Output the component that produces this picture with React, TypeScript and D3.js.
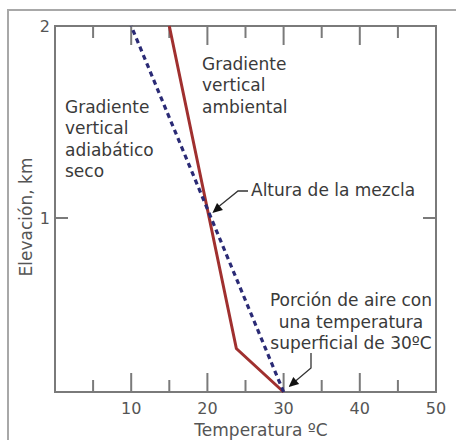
import React from "react";
import * as d3 from "d3";

// Temperature axis (°C) and elevation axis (km)
const tempMajorTicks = [10, 20, 30, 40];
const tempMinorTicks = [5, 15, 25, 35, 45];
const tempTickLabels = ["10", "20", "30", "40", "50"];
const tempLabelValues = [10, 20, 30, 40, 50];
const elevTicks = [1];
const elevLabels = ["2", "1"];
const elevLabelValues = [2, 1];

// Dry adiabatic lapse rate: 30 °C at the surface, cooling 10 °C per km
const dryAdiabatTemp = [30, 10];
const dryAdiabatElev = [0, 2];

// Environmental lapse rate profile
const envTemp = [30, 23.8, 15];
const envElev = [0, 0.25, 2];

// Annotations
const dryLabel = ["Gradiente", "vertical", "adiabático", "seco"];
const envLabel = ["Gradiente", "vertical", "ambiental"];
const mixLabel = "Altura de la mezcla";
const parcelLabel = ["Porción de aire con", "una temperatura", "superficial de 30ºC"];

const W = 456;
const H = 440;
const FONT = "'DejaVu Sans', Verdana, sans-serif";

const x = d3.scaleLinear().domain([0, 50]).range([55, 436]);
const y = d3.scaleLinear().domain([0, 1, 2]).range([392, 218, 26]);

function arrowHead(tip: [number, number], from: [number, number], len = 10, half = 4.5) {
  const dx = tip[0] - from[0];
  const dy = tip[1] - from[1];
  const d = Math.hypot(dx, dy);
  const ux = dx / d;
  const uy = dy / d;
  const bx = tip[0] - ux * len;
  const by = tip[1] - uy * len;
  return `M${tip[0]},${tip[1]}L${bx - uy * half},${by + ux * half}L${bx + uy * half},${by - ux * half}Z`;
}

export default function App() {
  const line = d3
    .line<[number, number]>()
    .x((d) => x(d[0]))
    .y((d) => y(d[1]));

  const dryPts = dryAdiabatTemp.map((t, i) => [t, dryAdiabatElev[i]] as [number, number]);
  const envPts = envTemp.map((t, i) => [t, envElev[i]] as [number, number]);

  const x0 = x(0);
  const x1 = x(50);
  const yTop = y(2);
  const yBot = y(0);

  const axisColor = "#7a7a7a";
  const textColor = "#3a3a3a";

  // leader for mixing height
  const mixTip: [number, number] = [x(20) + 5, y(1) - 5];
  const mixElbow: [number, number] = [238, 191];
  const mixStart: [number, number] = [248, 191];
  const mixShaftEnd: [number, number] = [mixTip[0] + 7, mixTip[1] - 7];

  // leader for surface parcel
  const parTip: [number, number] = [x(30) + 5, y(0) - 5];
  const parTop: [number, number] = [311, 353];
  const parElbow: [number, number] = [311, 368];
  const parShaftEnd: [number, number] = [parTip[0] + 7, parTip[1] - 6];

  return (
    <svg
      width={W}
      height={H}
      style={{ position: "absolute", left: 0, top: 0, background: "#fff" }}
      fontFamily={FONT}
    >
      {/* outer frame */}
      <rect x={8} y={10} width={470} height={460} fill="none" stroke="#a8a8a8" strokeWidth={2} />

      {/* plot frame */}
      <rect x={x0} y={yTop} width={x1 - x0} height={yBot - yTop} fill="none" stroke={axisColor} strokeWidth={2} />

      {/* temperature ticks, bottom and top, pointing inward */}
      {tempMajorTicks.map((t) => (
        <g key={`M${t}`} stroke={axisColor} strokeWidth={2}>
          <line x1={x(t)} x2={x(t)} y1={yBot} y2={yBot - 19} />
          <line x1={x(t)} x2={x(t)} y1={yTop} y2={yTop + 19} />
        </g>
      ))}
      {tempMinorTicks.map((t) => (
        <g key={`m${t}`} stroke={axisColor} strokeWidth={2}>
          <line x1={x(t)} x2={x(t)} y1={yBot} y2={yBot - 12} />
          <line x1={x(t)} x2={x(t)} y1={yTop} y2={yTop + 12} />
        </g>
      ))}
      {elevTicks.map((e) => (
        <g key={`e${e}`} stroke={axisColor} strokeWidth={2}>
          <line x1={x0} x2={x0 + 13} y1={y(e)} y2={y(e)} />
          <line x1={x1} x2={x1 - 13} y1={y(e)} y2={y(e)} />
        </g>
      ))}

      {/* tick labels */}
      {tempLabelValues.map((t, i) => (
        <text key={`tl${t}`} x={x(t)} y={414} textAnchor="middle" fontSize={16} fill="#555">
          {tempTickLabels[i]}
        </text>
      ))}
      {elevLabelValues.map((e, i) => (
        <text key={`el${e}`} x={50} y={y(e)} dy="0.36em" textAnchor="end" fontSize={16} fill="#555">
          {elevLabels[i]}
        </text>
      ))}

      {/* axis titles */}
      <text x={261} y={436} textAnchor="middle" fontSize={17} fill="#555">
        Temperatura ºC
      </text>
      <text
        transform={`translate(26,217) rotate(-90)`}
        textAnchor="middle"
        dy="0.36em"
        fontSize={17}
        fill="#555"
      >
        Elevación, km
      </text>

      {/* lapse-rate lines */}
      <path d={line(envPts) ?? ""} fill="none" stroke="#a0302f" strokeWidth={3} strokeLinejoin="miter" />
      <path d={line(dryPts) ?? ""} fill="none" stroke="#2a2a75" strokeWidth={3.2} strokeDasharray="5 4" />

      {/* annotations */}
      <text fontSize={17} fill={textColor}>
        {dryLabel.map((s, i) => (
          <tspan key={s} x={65} y={113 + i * 21.3}>
            {s}
          </tspan>
        ))}
      </text>
      <text fontSize={17} fill={textColor}>
        {envLabel.map((s, i) => (
          <tspan key={s} x={202} y={70 + i * 21.3}>
            {s}
          </tspan>
        ))}
      </text>
      <text x={251} y={196} fontSize={17} fill={textColor}>
        {mixLabel}
      </text>
      <text fontSize={17} fill={textColor} textAnchor="middle">
        {parcelLabel.map((s, i) => (
          <tspan key={s} x={351} y={306 + i * 21.5}>
            {s}
          </tspan>
        ))}
      </text>

      {/* leader arrows */}
      <polyline
        points={[mixStart, mixElbow, mixShaftEnd].map((p) => p.join(",")).join(" ")}
        fill="none"
        stroke="#333"
        strokeWidth={1.3}
      />
      <path d={arrowHead(mixTip, mixElbow)} fill="#111" />
      <polyline
        points={[parTop, parElbow, parShaftEnd].map((p) => p.join(",")).join(" ")}
        fill="none"
        stroke="#333"
        strokeWidth={1.3}
      />
      <path d={arrowHead(parTip, parElbow)} fill="#111" />
    </svg>
  );
}
